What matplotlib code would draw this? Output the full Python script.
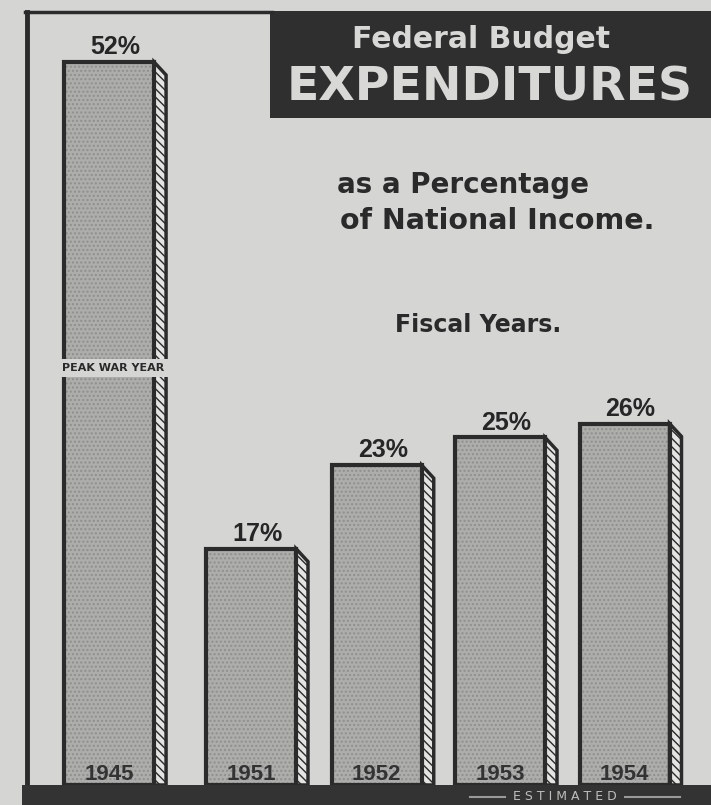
import matplotlib
matplotlib.use("Agg")
import matplotlib.pyplot as plt
from matplotlib.patches import Polygon, Rectangle
from matplotlib.lines import Line2D

# ---- data ----
years = ["1945", "1951", "1952", "1953", "1954"]
values = [52, 17, 23, 25, 26]
value_labels = ["52%", "17%", "23%", "25%", "26%"]
positions = [-0.14, 1.0, 2.01, 3.0, 4.0]
title_top = "Federal Budget"
title_main = "EXPENDITURES"
subtitle = ["as a Percentage", "of National Income."]
subnote = "Fiscal Years."
peak_label = "PEAK WAR YEAR"
estimated_label = "E S T I M A T E D"

W, H = 711, 805
BG = "#d5d5d3"
DARK = "#2b2b2b"
FACE = "#adadab"

fig = plt.figure(figsize=(W / 100, H / 100), dpi=100, facecolor=BG)

# overlay axes for decorations (pixel coords)
deco = fig.add_axes([0, 0, 1, 1], zorder=0)
deco.set_xlim(0, W)
deco.set_ylim(H, 0)
deco.axis("off")

# bar axes
px_per_pct = 723 / 52.0
unit_px = 124.5
ax = fig.add_axes([0, 20 / H, 1, 785 / H], zorder=1)
ax.set_xlim(1 - 251 / unit_px, 1 - 251 / unit_px + W / unit_px)
ax.set_ylim(0, 785 / px_per_pct)
ax.axis("off")
ax.patch.set_alpha(0)

bw = 90 / unit_px
dx = 12 / unit_px
dy = 13 / px_per_pct

# dotted texture of bars
ax.bar(positions, values, width=bw, color=FACE, edgecolor="#8f8f8d",
       linewidth=0, hatch="....", zorder=2)
# outline
ax.bar(positions, values, width=bw, fill=False, edgecolor=DARK,
       linewidth=3, zorder=3)

for x, v in zip(positions, values):
    xr = x + bw / 2
    side = Polygon([(xr, v), (xr + dx, v - dy), (xr + dx, 0), (xr, 0)],
                   closed=True, facecolor="#e4e4e2", edgecolor=DARK,
                   linewidth=2.5, hatch="\\\\\\\\", zorder=2)
    ax.add_patch(side)

for x, v, lab in zip(positions, values, value_labels):
    ax.text(x + dx / 2, v + 0.2, lab, ha="center", va="bottom",
            fontsize=18, fontweight="bold", family="Liberation Sans",
            color="#262626", zorder=4)

for x, yr in zip(positions, years):
    ax.text(x, 0.02, yr, ha="center", va="bottom", fontsize=16,
            fontweight="bold", family="Liberation Sans", color="#333333",
            zorder=4)

# PEAK WAR YEAR band
ax.text(positions[0] - bw / 2 - 0.02, 30.0, peak_label, ha="left", va="center",
        fontsize=8, fontweight="bold", family="DejaVu Sans", color="#2a2a2a",
        zorder=5,
        bbox=dict(boxstyle="square,pad=0.35", facecolor=BG, edgecolor="none"))

# frame lines
deco.add_line(Line2D([27, 27], [12, 790], color=DARK, linewidth=3.5))
deco.add_line(Line2D([25, 272], [12, 12], color=DARK, linewidth=2.5))

# title box
deco.add_patch(Rectangle((270, 11), W - 270, 107, facecolor="#2f2f2f",
                         edgecolor="none"))
deco.text(481, 40, title_top, ha="center", va="center", fontsize=21.5,
          fontweight="bold", family="DejaVu Sans", color="#d8d8d6")
deco.text(490, 88, title_main, ha="center", va="center", fontsize=34,
          fontweight="bold", family="DejaVu Sans", color="#d8d8d6")

# subtitles
deco.text(337, 185, subtitle[0], ha="left", va="center", fontsize=20,
          fontweight="bold", family="DejaVu Sans", color="#2a2a2a")
deco.text(340, 221, subtitle[1], ha="left", va="center", fontsize=20.5,
          fontweight="bold", family="DejaVu Sans", color="#2a2a2a")
deco.text(395, 325, subnote, ha="left", va="center", fontsize=17,
          fontweight="bold", family="DejaVu Sans", color="#2a2a2a")

# bottom dark band
deco.add_patch(Rectangle((22, 785), W - 22, 20, facecolor="#333333",
                         edgecolor="none", zorder=6))
deco.text(565, 796, estimated_label, ha="center", va="center", fontsize=9,
          family="DejaVu Sans", color="#bdbdbb", zorder=7)
deco.add_line(Line2D([470, 505], [797, 797], color="#9a9a98", linewidth=1.5,
                     zorder=7))
deco.add_line(Line2D([625, 680], [797, 797], color="#9a9a98", linewidth=1.5,
                     zorder=7))

fig.savefig("out.png", dpi=100, facecolor=BG)
